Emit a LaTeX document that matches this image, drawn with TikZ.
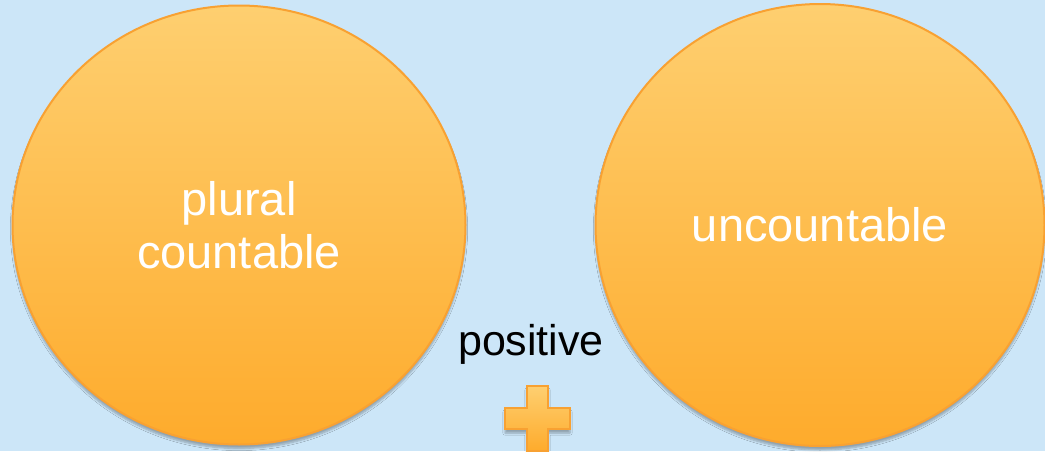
\documentclass[tikz,border=0pt]{standalone}
\usepackage{fontspec}
\setmainfont{Liberation Sans}
\usetikzlibrary{shapes.geometric, shadows.blur}
\definecolor{skyback}{RGB}{204,230,248}
\definecolor{blobtop}{RGB}{254,207,112}
\definecolor{blobbot}{RGB}{254,171,44}
\definecolor{blobedge}{RGB}{248,161,50}
\begin{document}
\begin{tikzpicture}[x=1pt, y=-1pt,
  blob/.style={ellipse, inner sep=0pt, draw=blobedge, line width=2pt,
    top color=blobtop, bottom color=blobbot, text=white,
    font=\fontsize{47}{53}\selectfont, align=center,
    blur shadow={shadow xshift=0pt, shadow yshift=-4pt, shadow blur steps=6, shadow opacity=30}},
  caption/.style={font=\fontsize{43}{48}\selectfont, text=black, inner sep=0pt}]
  % Background
  \useasboundingbox (0,0) rectangle (1045,451);
  \fill[skyback] (0,0) rectangle (1045,451);
  % The two sets
  \node[blob, minimum width=453pt, minimum height=439pt] (plural) at (239,225) {plural\\countable};
  \node[blob, minimum width=449pt, minimum height=442pt] (uncount) at (820,225) {uncountable};
  % Middle label
  \node[caption, anchor=base] (positive) at (531,355) {positive};
  % Plus sign
  \coordinate (plus) at (537.5,418.5);
  \draw[blobedge, line width=2pt, top color=blobtop, bottom color=blobbot,
    blur shadow={shadow xshift=0pt, shadow yshift=-4pt, shadow blur steps=6, shadow opacity=30}]
    (plus) ++(-10.5,-32.5) -- ++(21,0) -- ++(0,22) -- ++(22,0) -- ++(0,21)
    -- ++(-22,0) -- ++(0,22) -- ++(-21,0) -- ++(0,-22) -- ++(-22,0)
    -- ++(0,-21) -- ++(22,0) -- cycle;
\end{tikzpicture}
\end{document}
